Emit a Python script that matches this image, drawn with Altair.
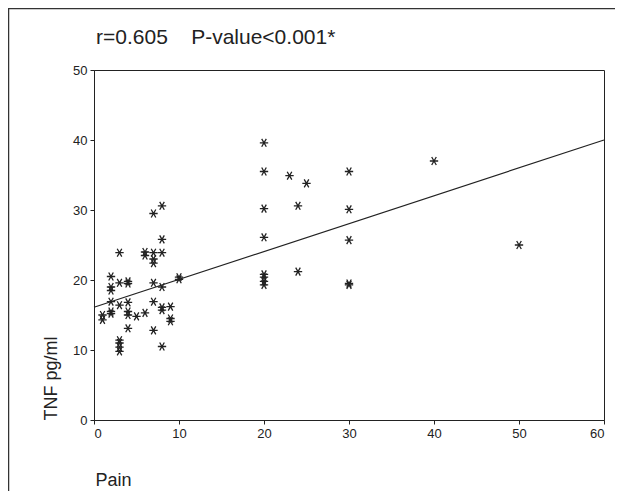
import altair as alt
import pandas as pd

# Scatter data
pain = [1, 1,
        2, 2, 2, 2, 2, 2,
        3, 3, 3, 3, 3, 3, 3,
        4, 4, 4, 4, 4, 4,
        5,
        6, 6, 6,
        7, 7, 7, 7, 7, 7, 7,
        8, 8, 8, 8, 8, 8, 8,
        9, 9, 9,
        10, 10,
        20, 20, 20, 20, 20, 20, 20, 20,
        23,
        24, 24,
        25,
        30, 30, 30, 30, 30,
        40,
        50]
tnf = [15.0, 14.3,
       20.5, 19.0, 18.5, 16.9, 15.5, 15.2,
       23.9, 19.6, 16.4, 11.4, 11.0, 10.4, 9.8,
       19.8, 19.5, 16.8, 15.5, 15.0, 13.1,
       14.8,
       24.0, 23.5, 15.3,
       29.5, 23.9, 23.0, 22.4, 19.6, 16.9, 12.8,
       30.6, 25.8, 23.9, 19.0, 16.1, 15.7, 10.5,
       16.2, 14.5, 14.1,
       20.4, 20.1,
       39.6, 35.5, 30.2, 26.1, 20.8, 20.4, 19.8, 19.3,
       34.9,
       30.6, 21.2,
       33.8,
       35.5, 30.1, 25.7, 19.5, 19.3,
       37.0,
       25.0]

# Fit line end points
fit_x = [0, 60]
fit_y = [16.1, 40.0]

x_ticks = [0, 10, 20, 30, 40, 50, 60]
y_ticks = [0, 10, 20, 30, 40, 50]

title_text = "r=0.605\u00a0\u00a0\u00a0\u00a0P-value<0.001*"

pts = pd.DataFrame({"Pain": pain, "TNF": tnf})
fit = pd.DataFrame({"Pain": fit_x, "TNF": fit_y})

FONT = "Liberation Sans"
INK = "#222222"
W, H = 510, 350

xscale = alt.Scale(domain=[0, 60], nice=False, zero=False)
yscale = alt.Scale(domain=[0, 50], nice=False, zero=False)

xaxis = alt.Axis(values=x_ticks, title="Pain", grid=False,
                 titleAnchor="start", titleAlign="left", titleBaseline="alphabetic",
                 titleX=1, titleY=65, titleFontSize=18, titleFontWeight="normal",
                 titleColor=INK, labelFontSize=13, labelColor=INK,
                 tickSize=4, labelPadding=3, domainColor=INK, tickColor=INK)
yaxis = alt.Axis(values=y_ticks, title="TNF pg/ml", grid=False,
                 titleAnchor="start", titleAlign="left", titleAngle=-90,
                 titleBaseline="bottom", titleX=-34, titleY=H,
                 titleFontSize=18, titleFontWeight="normal", titleColor=INK,
                 labelFontSize=13, labelColor=INK,
                 tickSize=4, labelPadding=3, domainColor=INK, tickColor=INK)

star = "M-1,0L1,0M-0.55,-0.95L0.55,0.95M-0.55,0.95L0.55,-0.95"

points = alt.Chart(pts).mark_point(
    shape=star, size=70, filled=False, stroke=INK, strokeWidth=1.3, opacity=1
).encode(
    x=alt.X("Pain:Q", scale=xscale, axis=xaxis),
    y=alt.Y("TNF:Q", scale=yscale, axis=yaxis),
)

line = alt.Chart(fit).mark_line(color=INK, strokeWidth=1.2).encode(
    x=alt.X("Pain:Q", scale=xscale),
    y=alt.Y("TNF:Q", scale=yscale),
)

frame_top = alt.Chart(pd.DataFrame({"a": [0]})).mark_rule(
    color="#333333", strokeWidth=1.5
).encode(x=alt.value(-86), x2=alt.value(W + 12), y=alt.value(-61.5))
frame_left = alt.Chart(pd.DataFrame({"a": [0]})).mark_rule(
    color="#333333", strokeWidth=1.5
).encode(x=alt.value(-85.5), y=alt.value(-62), y2=alt.value(H + 72))

chart = alt.layer(frame_top, frame_left, line, points).properties(
    width=W, height=H,
    autosize=alt.AutoSizeParams(type="none"),
    padding={"left": 86, "top": 62, "right": 11, "bottom": 71},
    title=alt.TitleParams(
        title_text, anchor="start", frame="group",
        fontSize=21, fontWeight="normal", font=FONT, color=INK,
        baseline="alphabetic", offset=-58, dx=2,
    ),
).configure(font=FONT).configure_view(
    stroke=INK, strokeWidth=1
).configure_axis(labelFont=FONT, titleFont=FONT)

chart.save("out.html", embed_options={"renderer": "svg", "actions": False})
